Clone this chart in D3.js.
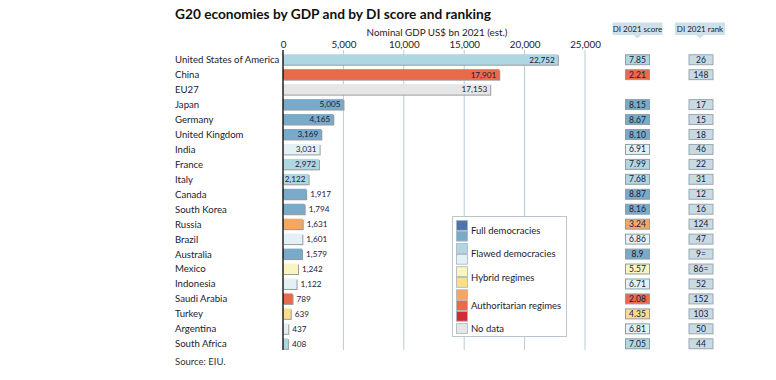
<!DOCTYPE html>
<html>
<head>
<meta charset="utf-8">
<script src="https://cdn.jsdelivr.net/npm/d3@7"></script>
<style>
  html, body { margin: 0; padding: 0; background: #fff; }
  svg { display: block; font-family: Lato, "Open Sans", sans-serif; }
</style>
</head>
<body>
<svg id="chart" width="776" height="380"></svg>
<script>
const countries = ["United States of America","China","EU27","Japan","Germany","United Kingdom","India","France","Italy","Canada","South Korea","Russia","Brazil","Australia","Mexico","Indonesia","Saudi Arabia","Turkey","Argentina","South Africa"];
const gdp = [22752,17901,17153,5005,4165,3169,3031,2972,2122,1917,1794,1631,1601,1579,1242,1122,789,639,437,408];
const scoreLabels = ["7.85","2.21",null,"8.15","8.67","8.10","6.91","7.99","7.68","8.87","8.16","3.24","6.86","8.9","5.57","6.71","2.08","4.35","6.81","7.05"];
const rankLabels = ["26","148",null,"17","15","18","46","22","31","12","16","124","47","9=","86=","52","152","103","50","44"];
const xTicks = [0,5000,10000,15000,20000,25000];
const legendGroups = ["Full democracies","Flawed democracies","Hybrid regimes","Authoritarian regimes","No data"];
const legendColors = [["#4d74ad","#7aaac9"],["#aed7e2","#e3f1f6"],["#f8f5c1","#fbdd8e"],["#f2a862","#e86a4a","#d42a36"],["#e6e6e6"]];

function colorFor(s) {
  if (s == null) return "#e6e6e6";
  const v = +s;
  if (v >= 9) return "#4d74ad";
  if (v >= 8) return "#7aaac9";
  if (v >= 7) return "#aed7e2";
  if (v >= 6) return "#e3f1f6";
  if (v >= 5) return "#f8f5c1";
  if (v >= 4) return "#fbdd8e";
  if (v >= 3) return "#f2a862";
  if (v >= 2) return "#e86a4a";
  return "#d42a36";
}

const svg = d3.select("#chart");
const x = d3.scaleLinear().domain([0, 25000]).range([283, 585]);
const y = d3.scaleBand().domain(countries).range([52, 351]).paddingInner(0.3).paddingOuter(0.15);

// Title
svg.append("text").attr("x", 175).attr("y", 19).attr("font-size", 13.7).attr("font-weight", 700)
  .attr("fill", "#111").text("G20 economies by GDP and by DI score and ranking");

// Axis title
svg.append("text").attr("x", 437).attr("y", 36).attr("text-anchor", "middle").attr("font-size", 9.8)
  .attr("fill", "#222").text("Nominal GDP US$ bn 2021 (est.)");

// tick labels
const axis = d3.axisTop(x).tickValues(xTicks).tickSize(0).tickFormat(d3.format(","));
const ag = svg.append("g").attr("transform", "translate(0,47.5)").call(axis);
ag.select(".domain").remove();
ag.selectAll("text").attr("font-size", 9.8).attr("fill", "#222").attr("font-family", "Lato, sans-serif")
  .attr("y", 0).attr("dy", 0);

// gridlines
svg.append("g").selectAll("line").data(xTicks.slice(1)).join("line")
  .attr("x1", d => x(d)).attr("x2", d => x(d)).attr("y1", 50).attr("y2", 350)
  .attr("stroke", "#b7cbd5").attr("stroke-width", 1);

// Country labels
svg.append("g").selectAll("text").data(countries).join("text")
  .attr("x", 175).attr("y", d => y(d) + y.bandwidth() / 2 + 3.7)
  .attr("font-size", 9.6).attr("fill", "#1a1a2e").text(d => d);

// Bars (shadow + fill)
const bars = svg.append("g");
bars.selectAll("rect.sh").data(countries).join("rect").attr("class", "sh")
  .attr("x", x(0) + 1).attr("y", d => y(d) + 1)
  .attr("width", (d, i) => x(gdp[i]) - x(0)).attr("height", y.bandwidth())
  .attr("fill", "#9a9a9a");
bars.selectAll("rect.b").data(countries).join("rect").attr("class", "b")
  .attr("x", x(0)).attr("y", d => y(d))
  .attr("width", (d, i) => x(gdp[i]) - x(0)).attr("height", y.bandwidth())
  .attr("fill", (d, i) => colorFor(scoreLabels[i]));

// Value labels
const fmt = d3.format(",");
svg.append("g").selectAll("text").data(countries).join("text")
  .attr("x", (d, i) => gdp[i] >= 2000 ? x(gdp[i]) - 3 : x(gdp[i]) + 4)
  .attr("y", d => y(d) + y.bandwidth() / 2 + 3.1)
  .attr("text-anchor", (d, i) => gdp[i] >= 2000 ? "end" : "start")
  .attr("font-size", 8.2).attr("fill", "#1a1a3a")
  .text((d, i) => fmt(gdp[i]));

// Axis line
svg.append("line").attr("x1", x(0)).attr("x2", x(0)).attr("y1", 50).attr("y2", 350)
  .attr("stroke", "#000").attr("stroke-width", 1.3);

// Legend
const lg = svg.append("g");
lg.append("rect").attr("x", 452.5).attr("y", 216.5).attr("width", 114).attr("height", 120)
  .attr("fill", "#fff").attr("stroke", "#b9c6cc");
let ly = 220;
const swH = 10.8;
legendGroups.forEach((g, gi) => {
  const cols = legendColors[gi];
  const startY = ly;
  cols.forEach((c) => {
    lg.append("rect").attr("x", 456.5).attr("y", ly + 0.5).attr("width", 11).attr("height", swH - 1)
      .attr("fill", c).attr("stroke", "#a9b4b9").attr("stroke-width", 0.8);
    ly += swH;
  });
  lg.append("text").attr("x", 471).attr("y", (startY + ly) / 2 + 3.5)
    .attr("font-size", 9.5).attr("fill", "#1a1a2e").text(g);
  ly += 1.5;
});

// Column headers
function header(cx, label) {
  const g = svg.append("g");
  g.append("rect").attr("x", cx - 25).attr("y", 22.5).attr("width", 50).attr("height", 12.5).attr("fill", "#cfe0ea");
  g.append("path").attr("d", `M${cx - 4},35 L${cx + 4},35 L${cx},38.5 Z`).attr("fill", "#cfe0ea");
  g.append("text").attr("x", cx).attr("y", 31.8).attr("text-anchor", "middle").attr("font-size", 8)
    .attr("fill", "#1a1a2e").text(label);
}
header(637.5, "DI 2021 score");
header(700, "DI 2021 rank");

// Score boxes
const idx = d3.range(countries.length).filter(i => scoreLabels[i] != null);
const sb = svg.append("g");
sb.selectAll("rect").data(idx).join("rect")
  .attr("x", 625.5).attr("y", i => y(countries[i]) + 0.5).attr("width", 24).attr("height", y.bandwidth() - 0.5)
  .attr("fill", i => colorFor(scoreLabels[i])).attr("stroke", "#8e9ea6").attr("stroke-width", 1);
sb.selectAll("text").data(idx).join("text")
  .attr("x", 637.5).attr("y", i => y(countries[i]) + y.bandwidth() / 2 + 3.3)
  .attr("text-anchor", "middle").attr("font-size", 8.5).attr("fill", "#1a1a3a")
  .text(i => scoreLabels[i]);

const rb = svg.append("g");
rb.selectAll("rect").data(idx).join("rect")
  .attr("x", 689).attr("y", i => y(countries[i]) + 0.5).attr("width", 24).attr("height", y.bandwidth() - 0.5)
  .attr("fill", "#c8dae3").attr("stroke", "#9aa8ae").attr("stroke-width", 1);
rb.selectAll("text").data(idx).join("text")
  .attr("x", 701).attr("y", i => y(countries[i]) + y.bandwidth() / 2 + 3.3)
  .attr("text-anchor", "middle").attr("font-size", 8.5).attr("fill", "#1a1a3a")
  .text(i => rankLabels[i]);

// Source
svg.append("text").attr("x", 175).attr("y", 365).attr("font-size", 9.5).attr("fill", "#333").text("Source: EIU.");
</script>
</body>
</html>
